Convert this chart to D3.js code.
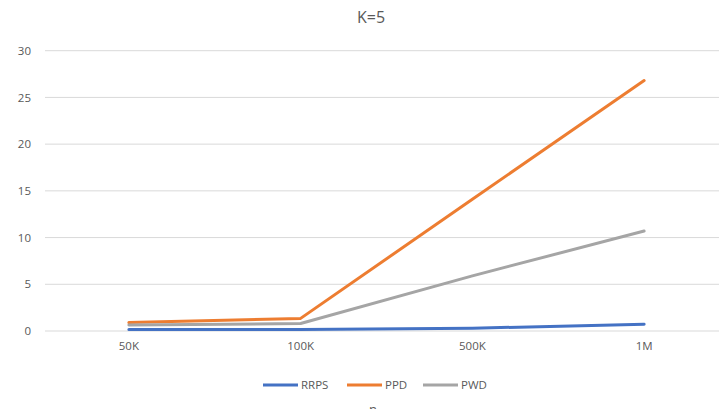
<!DOCTYPE html>
<html><head><meta charset="utf-8">
<script src="https://cdn.jsdelivr.net/npm/d3@7"></script>
<style>body{margin:0;background:#fff;}svg{display:block;font-family:"Open Sans","Liberation Sans",sans-serif;}</style>
</head><body>
<svg id="c" width="719" height="409"></svg>
<script>
const categories = ["50K","100K","500K","1M"];
const rrps = [0.15, 0.15, 0.3, 0.72];
const ppd = [0.9, 1.35, 14.1, 26.8];
const pwd = [0.65, 0.8, 5.9, 10.7];
const yTicks = [0,5,10,15,20,25,30];
const seriesNames = ["RRPS","PPD","PWD"];
const colors = ["#4472C4","#ED7D31","#A5A5A5"];

const svg = d3.select("#c");
const x = d3.scaleBand().domain(categories).range([43, 730]).padding(0);
const y = d3.scaleLinear().domain([0,30]).range([331, 50.7]);

svg.append("text").attr("x",371).attr("y",23).attr("text-anchor","middle")
  .attr("font-size",16).attr("fill","#595959").text("K=5");

const yAxis = d3.axisLeft(y).tickValues(yTicks).tickSize(0).tickPadding(0);
const gy = svg.append("g").attr("transform","translate(31,0)").call(yAxis);
gy.select(".domain").remove();
gy.selectAll("text").attr("font-size",11.5).attr("fill","#595959").attr("font-family","Open Sans, sans-serif");

svg.append("g").selectAll("line").data(yTicks).join("line")
  .attr("x1",45).attr("x2",719).attr("y1",d=>y(d)).attr("y2",d=>y(d))
  .attr("stroke","#d9d9d9").attr("stroke-width",1);

const xAxis = d3.axisBottom(x).tickSize(0).tickPadding(0);
const gx = svg.append("g").attr("transform","translate(0,342)").call(xAxis);
gx.select(".domain").remove();
gx.selectAll("text").attr("font-size",11.5).attr("fill","#595959").attr("font-family","Open Sans, sans-serif");

const data = [rrps, ppd, pwd];
const line = d3.line().x((d,i)=>x(categories[i])+x.bandwidth()/2).y(d=>y(d));
data.forEach((s,k)=>{
  svg.append("path").datum(s).attr("d",line).attr("fill","none")
    .attr("stroke",colors[k]).attr("stroke-width",3).attr("stroke-linejoin","round").attr("stroke-linecap","round");
});

const legX = [263, 347, 423];
seriesNames.forEach((n,k)=>{
  svg.append("line").attr("x1",legX[k]).attr("x2",legX[k]+35).attr("y1",385).attr("y2",385)
    .attr("stroke",colors[k]).attr("stroke-width",3);
  svg.append("text").attr("x",legX[k]+38).attr("y",389).attr("font-size",11.5)
    .attr("fill","#595959").text(n);
});

svg.append("text").attr("x",373).attr("y",414).attr("text-anchor","middle")
  .attr("font-size",13).attr("fill","#595959").text("n");
</script>
</body></html>
